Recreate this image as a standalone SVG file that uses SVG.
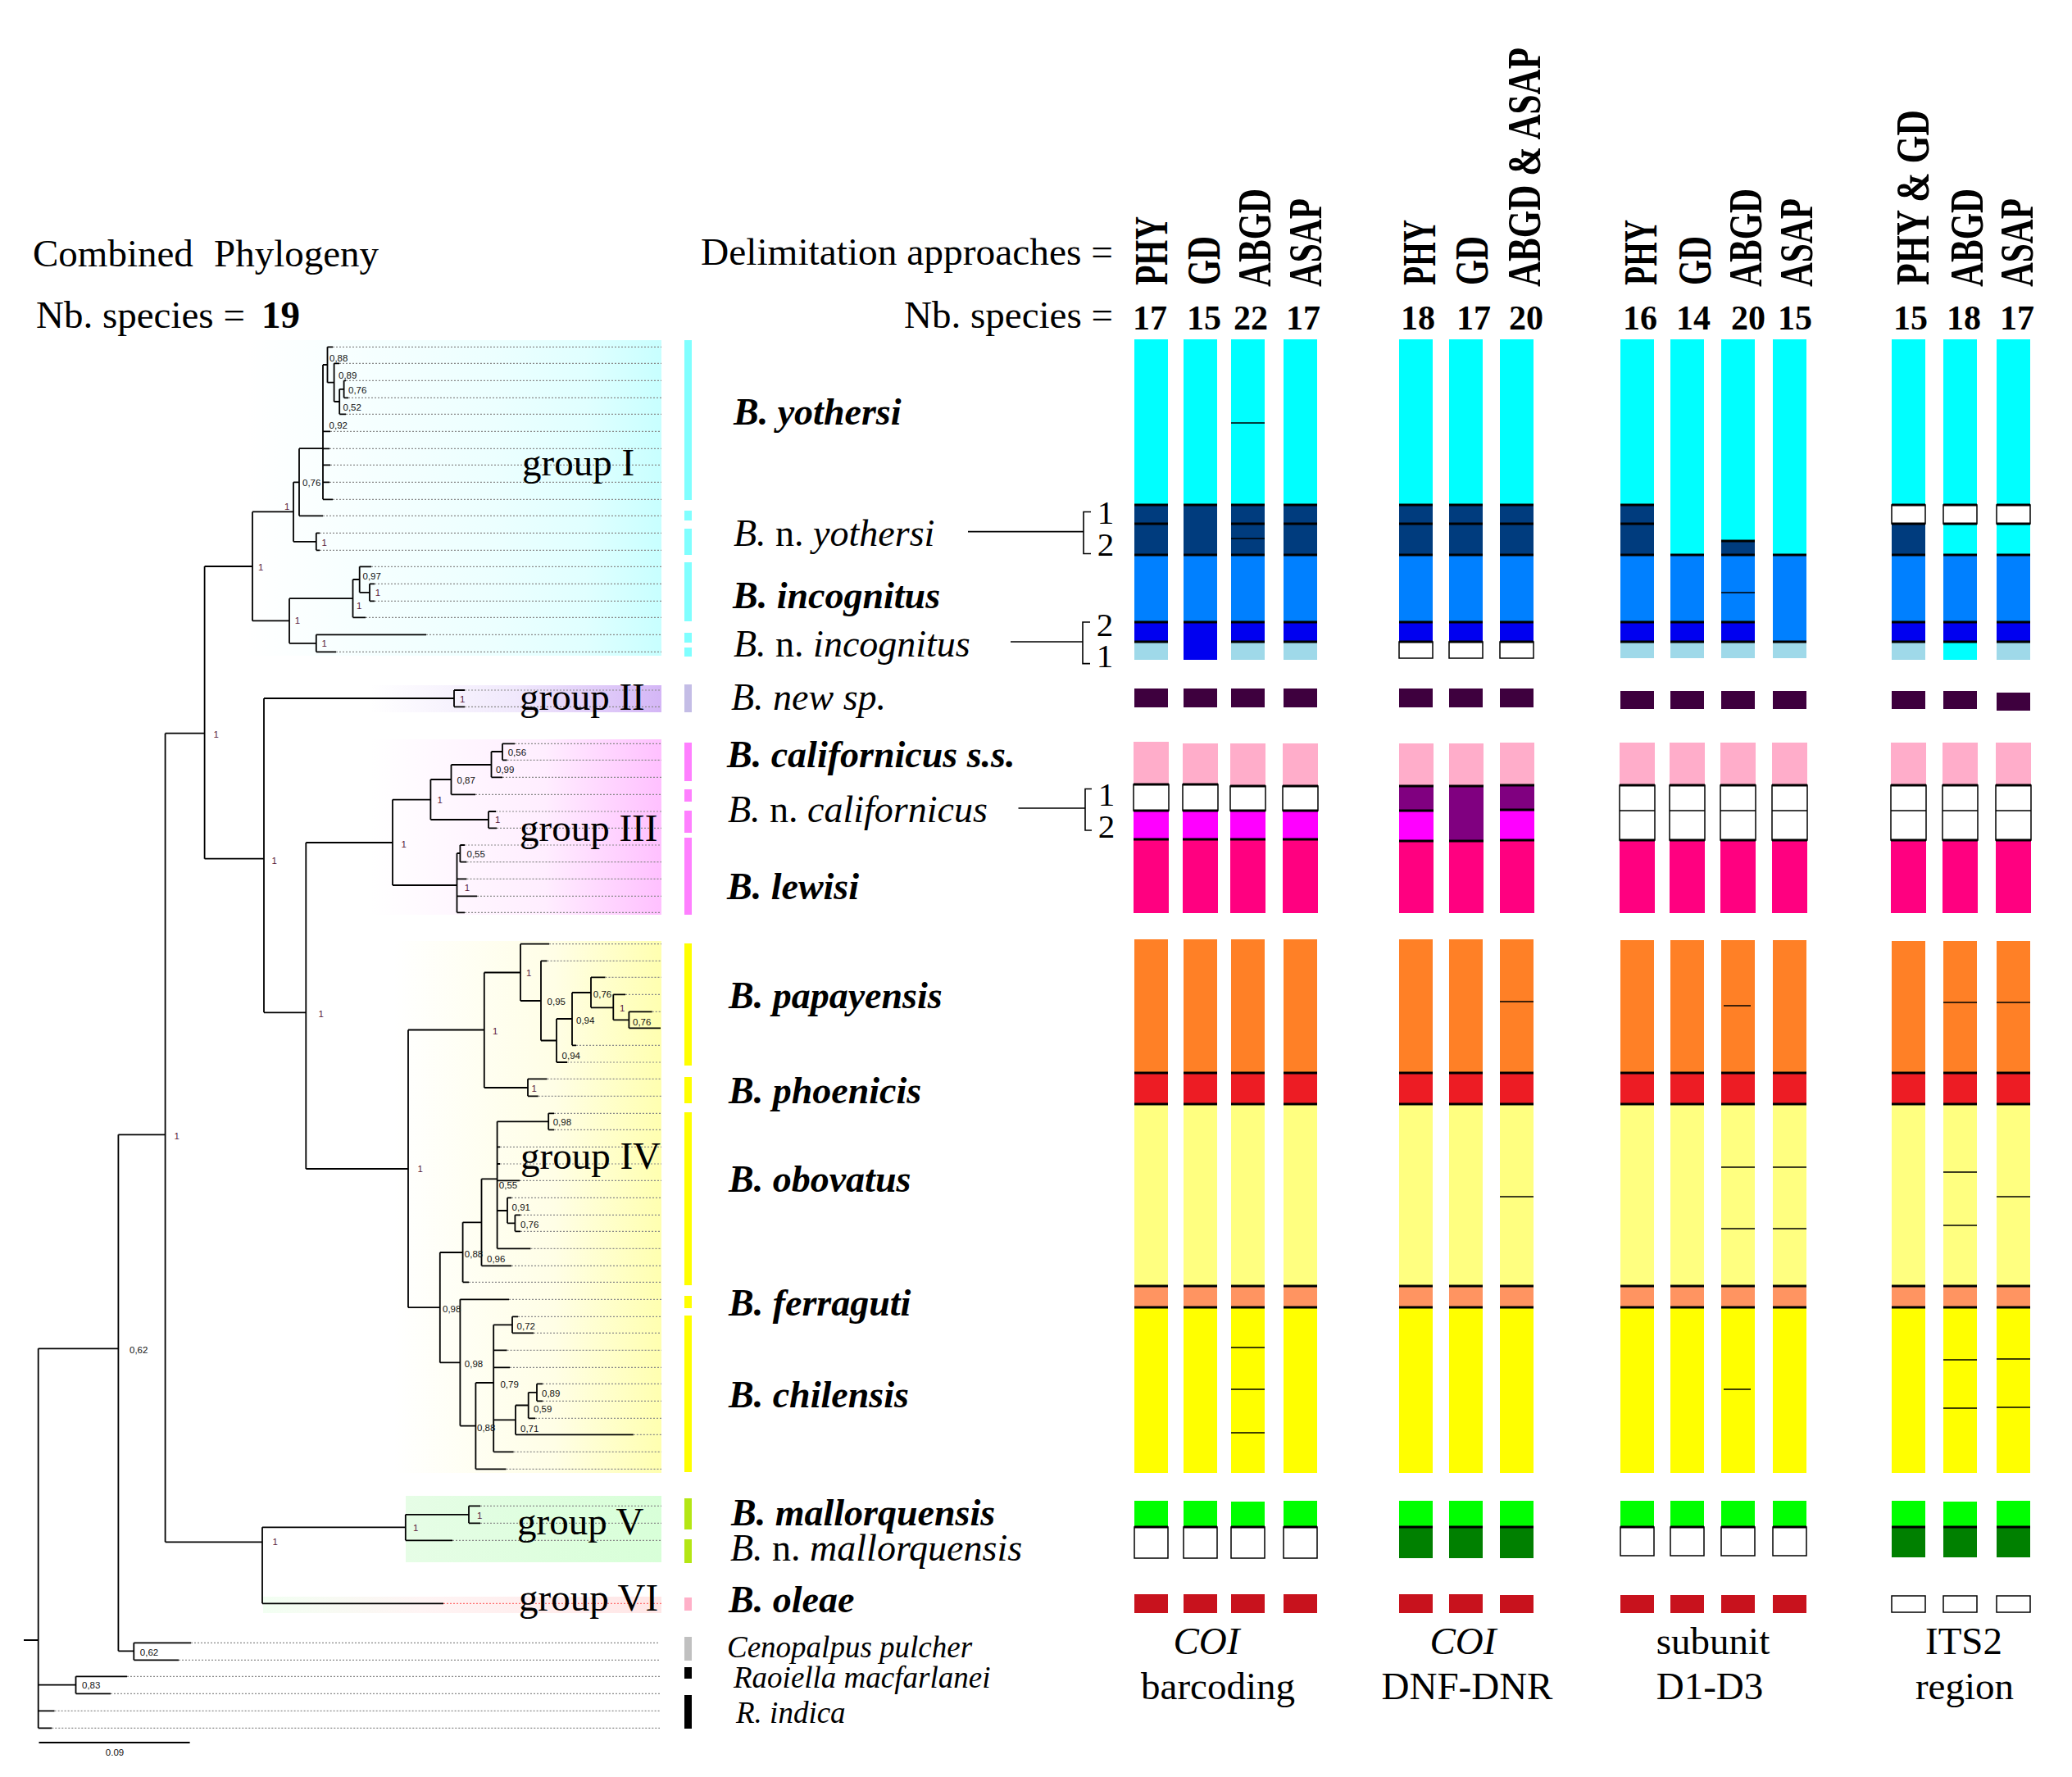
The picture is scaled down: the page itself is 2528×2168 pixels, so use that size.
<svg xmlns="http://www.w3.org/2000/svg" width="2528" height="2168" viewBox="0 0 2528 2168">
<defs>
<style>
.sr{font-family:"Liberation Serif","Times New Roman",serif;fill:#000}
.h{font-family:"Liberation Serif",serif;font-size:47px}
.hb{font-family:"Liberation Serif",serif;font-size:47px;font-weight:bold}
.rh{font-family:"Liberation Serif",serif;font-size:56px;font-weight:bold}
.nb{font-family:"Liberation Serif",serif;font-size:42px;font-weight:bold;text-anchor:middle}
.sp{font-family:"Liberation Serif",serif;font-size:46px;font-weight:bold;font-style:italic}
.sn{font-family:"Liberation Serif",serif;font-size:46px}
.it{font-style:italic}
.og{font-family:"Liberation Serif",serif;font-size:37px;font-style:italic}
.gl{font-family:"Liberation Serif",serif;font-size:47px}
.bt{font-family:"Liberation Serif",serif;font-size:47px;text-anchor:middle}
.br{font-family:"Liberation Serif",serif;font-size:41px;text-anchor:middle}
.pp{font-family:"Liberation Sans",Arial,sans-serif;font-size:11.5px;fill:#111}
.p1{font-family:"Liberation Sans",Arial,sans-serif;font-size:11.5px;fill:#5a1a3a}
.tr{fill:none;stroke:#000;stroke-width:1.8}
.dt{fill:none;stroke:#8a8a8a;stroke-width:1.2;stroke-dasharray:2 2}
.cn{fill:none;stroke:#000;stroke-width:1.6}
.tk{stroke:#000;stroke-width:3.2}
.tn{stroke:#000;stroke-width:1.5}
.cy{fill:#00ffff}.nv{fill:#003c7e}.bl{fill:#0080ff}.b2{fill:#0000f0}.lb{fill:#9fd9e9}
.ns{fill:#3e003e}.pk{fill:#ffadca}.wb{fill:#fff;stroke:#000;stroke-width:1.5}
.mg{fill:#ff00ff}.dp{fill:#ff0080}.pu{fill:#800080}
.or{fill:#ff8026}.rd{fill:#ed1c24}.ly{fill:#ffff80}.sa{fill:#ff9461}.ye{fill:#ffff00}
.gr{fill:#00ff00}.dg{fill:#008000}.ol{fill:#c8121d}
</style>
<linearGradient id="g1" x1="0" y1="0" x2="1" y2="0"><stop offset="0" stop-color="#fff"/><stop offset="0.6" stop-color="#ecffff"/><stop offset="0.82" stop-color="#e0ffff"/><stop offset="1" stop-color="#c8ffff"/></linearGradient>
<linearGradient id="g2" x1="0" y1="0" x2="1" y2="0"><stop offset="0" stop-color="#fff"/><stop offset="0.5" stop-color="#f0e8fc"/><stop offset="1" stop-color="#d4b6f6"/></linearGradient>
<linearGradient id="g3" x1="0" y1="0" x2="1" y2="0"><stop offset="0" stop-color="#fff"/><stop offset="0.6" stop-color="#ffeeff"/><stop offset="1" stop-color="#ffc0ff"/></linearGradient>
<linearGradient id="g4" x1="0" y1="0" x2="1" y2="0"><stop offset="0" stop-color="#fff"/><stop offset="0.6" stop-color="#fffee6"/><stop offset="1" stop-color="#ffffb0"/></linearGradient>
<linearGradient id="g5" x1="0" y1="0" x2="1" y2="0"><stop offset="0" stop-color="#e6fde6"/><stop offset="1" stop-color="#d8ffd8"/></linearGradient>
<linearGradient id="g6" x1="0" y1="0" x2="1" y2="0"><stop offset="0" stop-color="#f2fff2"/><stop offset="0.4" stop-color="#fff4f4"/><stop offset="1" stop-color="#ffe6e6"/></linearGradient>
</defs>
<rect x="0" y="0" width="2528" height="2168" fill="#fff"/>

<g id="group-backgrounds">
<rect x="300" y="415" width="507" height="385" fill="url(#g1)"/>
<rect x="452" y="836" width="355" height="33" fill="url(#g2)"/>
<rect x="452" y="902" width="355" height="214" fill="url(#g3)"/>
<rect x="480" y="1148" width="327" height="649" fill="url(#g4)"/>
<rect x="495" y="1825" width="312" height="81" fill="url(#g5)"/>
<rect x="321" y="1948" width="486" height="20" fill="url(#g6)"/>
</g>

<g id="header">
<text class="h" x="40" y="325">Combined</text>
<text class="h" x="261" y="325">Phylogeny</text>
<text class="h" x="44" y="400">Nb. species =</text>
<text class="hb" x="319" y="400">19</text>
<text class="h" x="855" y="323" textLength="503" lengthAdjust="spacingAndGlyphs">Delimitation approaches =</text>
<text class="h" x="1358" y="400" text-anchor="end">Nb. species =</text>
<text class="rh" transform="translate(1424,348) rotate(-90)" textLength="84" lengthAdjust="spacingAndGlyphs">PHY</text>
<text class="rh" transform="translate(1488,348) rotate(-90)" textLength="60" lengthAdjust="spacingAndGlyphs">GD</text>
<text class="rh" transform="translate(1550,350) rotate(-90)" textLength="120" lengthAdjust="spacingAndGlyphs">ABGD</text>
<text class="rh" transform="translate(1612,350) rotate(-90)" textLength="108" lengthAdjust="spacingAndGlyphs">ASAP</text>
<text class="rh" transform="translate(1751,348) rotate(-90)" textLength="80" lengthAdjust="spacingAndGlyphs">PHY</text>
<text class="rh" transform="translate(1815,348) rotate(-90)" textLength="60" lengthAdjust="spacingAndGlyphs">GD</text>
<text class="rh" transform="translate(1879,350) rotate(-90)" textLength="292" lengthAdjust="spacingAndGlyphs">ABGD &amp; ASAP</text>
<text class="rh" transform="translate(2021,348) rotate(-90)" textLength="80" lengthAdjust="spacingAndGlyphs">PHY</text>
<text class="rh" transform="translate(2087,348) rotate(-90)" textLength="60" lengthAdjust="spacingAndGlyphs">GD</text>
<text class="rh" transform="translate(2149,350) rotate(-90)" textLength="120" lengthAdjust="spacingAndGlyphs">ABGD</text>
<text class="rh" transform="translate(2211,350) rotate(-90)" textLength="108" lengthAdjust="spacingAndGlyphs">ASAP</text>
<text class="rh" transform="translate(2353,348) rotate(-90)" textLength="214" lengthAdjust="spacingAndGlyphs">PHY &amp; GD</text>
<text class="rh" transform="translate(2419,350) rotate(-90)" textLength="120" lengthAdjust="spacingAndGlyphs">ABGD</text>
<text class="rh" transform="translate(2480,350) rotate(-90)" textLength="108" lengthAdjust="spacingAndGlyphs">ASAP</text>
<text class="nb" x="1403" y="402">17</text><text class="nb" x="1469" y="402">15</text><text class="nb" x="1526" y="402">22</text><text class="nb" x="1590" y="402">17</text>
<text class="nb" x="1730" y="402">18</text><text class="nb" x="1798" y="402">17</text><text class="nb" x="1862" y="402">20</text>
<text class="nb" x="2001" y="402">16</text><text class="nb" x="2066" y="402">14</text><text class="nb" x="2133" y="402">20</text><text class="nb" x="2190" y="402">15</text>
<text class="nb" x="2331" y="402">15</text><text class="nb" x="2396" y="402">18</text><text class="nb" x="2461" y="402">17</text>
</g>

<g id="connectors">
<path class="tr" d="M29 2001H46.7M46.7 1645.3V2108.3M46.7 1645.3H144.4M144.4 1384.3V2014.3M144.4 2014.3H163.3M163.3 2004.3V2025.3M46.7 2055.7H92.5M92.5 2045.3V2066.3M144.4 1384.3H201.6M201.6 894.7V1881.3M201.6 894.7H249.6M249.6 691V1047.7M249.6 691H308M308 624.4V757.4M308 624.4H358M358 588.3V660.8M358 588.3H365M365 547.2V629.3M365 547.2H394M394 445V609.3M394 445H399.5M399.5 423.3V466.7M399.5 466.7H407.6M407.6 443.3V490M407.6 490H414.2M414.2 474.8V505.3M414.2 474.8H419.6M419.6 464.3V485.3M358 660.8H385.8M385.8 650.3V671.3M308 757.4H353M353 730.2V784.8M353 730.2H430.5M430.5 707V753.3M430.5 707H438.7M438.7 691.3V722.8M438.7 722.8H451M451 712.3V733.3M353 784.8H385.8M385.8 774.3V795.3M249.6 1047.7H322M322 852V1235.3M322 852H554M554 842V862.3M322 1235.3H373.3M373.3 1028V1426M373.3 1028H479M479 975.6V1080M479 975.6H525.4M525.4 951V1000M525.4 951H550.5M550.5 933V969.3M550.5 933H599.5M599.5 917V948.3M599.5 917H613M613 907.3V927.3M525.4 1000H596M596 990V1010.3M479 1080H557.5M557.5 1041V1113.3M557.5 1041H561.4M561.4 1031V1051.7M373.3 1426H498M498 1256.5V1595.2M498 1256.5H590.8M590.8 1186.5V1327M590.8 1186.5H635M635 1151.7V1221M635 1221H660M660 1172.3V1269.5M660 1269.5H679M679 1243V1296M679 1243H698M698 1211V1275.3M698 1211H721M721 1192.3V1229.3M721 1229.3H748.3M748.3 1213.3V1244.3M748.3 1244.3H767.4M767.4 1234.3V1254.3M590.8 1327H644M644 1316.3V1337.3M498 1595.2H536.8M536.8 1528V1662.4M536.8 1528H564.6M564.6 1491.3V1564.3M564.6 1491.3H587.5M587.5 1438.3V1544.3M587.5 1438.3H606.6M606.6 1368.3V1523.3M606.6 1368.3H669.2M669.2 1358.3V1378.3M606.6 1477H619M619 1461.3V1492.3M619 1492.3H628.4M628.4 1482.3V1502.3M536.8 1662.4H561.4M561.4 1585.3V1739.6M561.4 1739.6H580.4M580.4 1687V1792.3M580.4 1687H602.2M602.2 1616.3V1771.3M602.2 1616.3H625M625 1606.3V1626.3M602.2 1732.4H629M629 1714.5V1750.3M629 1714.5H644.7M644.7 1698.8V1730.3M644.7 1698.8H655M655 1688.3V1709.3M201.6 1881.3H320M320 1863.3V1956.3M320 1863.3H494.8M494.8 1847.8V1879.3M494.8 1847.8H572M572 1837.3V1858.3"/>
<path class="tr" d="M399.5 423.3H406M407.6 443.3H414M419.6 464.3H422M419.6 485.3H425M414.2 505.3H422M394 526.3H403M394 547.3H402M394 567.3H403M394 588.3H402M394 609.3H406M365 629.3H394M385.8 650.3H390M385.8 671.3H390M438.7 691.3H453M451 712.3H457M451 733.3H457M430.5 753.3H446M385.8 774.3H520M385.8 795.3H410M554 842H567M554 862.3H567M613 907.3H628M613 927.3H618.6M599.5 948.3H613M550.5 969.3H580M596 990H605M596 1010.3H606M561.4 1031H567M561.4 1051.7H569.5M557.5 1072.3H569.5M557.5 1093.3H582M557.5 1113.3H567M635 1151.7H670M660 1172.3H667.6M721 1192.3H738.5M748.3 1213.3H763M767.4 1234.3H795.7M767.4 1254.3H806M698 1275.3H703M679 1296H692M644 1316.3H667.6M644 1337.3H656.7M669.2 1358.3H676M669.2 1378.3H676M606.6 1399.3H610M606.6 1420H610M606.6 1440.3H634M619 1461.3H624M628.4 1482.3H635M628.4 1502.3H635M606.6 1523.3H647.5M587.5 1544.3H624M564.6 1564.3H572M561.4 1585.3H621M625 1606.3H632M625 1626.3H651M602.2 1647.3H618.6M602.2 1668.3H622M655 1688.3H662M655 1709.3H662M644.7 1730.3H653M629 1750.3H772.8M602.2 1771.3H626.7M580.4 1792.3H617.5M572 1837.3H586M572 1858.3H586M494.8 1879.3H552M320 1956.3H541M163.3 2004.3H233M163.3 2025.3H218M92.5 2045.3H155M92.5 2066.3H135M46.7 2087.3H66.6M46.7 2108.3H63.3M47.5 2126H231.6"/>
<path class="dt" d="M406 423.3H807M414 443.3H807M422 464.3H807M425 485.3H807M422 505.3H807M403 526.3H807M402 547.3H807M403 567.3H807M402 588.3H807M406 609.3H807M394 629.3H807M390 650.3H807M390 671.3H807M453 691.3H807M457 712.3H807M457 733.3H807M446 753.3H807M520 774.3H807M410 795.3H807M567 842H807M567 862.3H807M628 907.3H807M618.6 927.3H807M613 948.3H807M580 969.3H807M605 990H807M606 1010.3H807M567 1031H807M569.5 1051.7H807M569.5 1072.3H807M582 1093.3H807M567 1113.3H807M670 1151.7H807M667.6 1172.3H807M738.5 1192.3H807M763 1213.3H807M795.7 1234.3H807M703 1275.3H807M692 1296H807M667.6 1316.3H807M656.7 1337.3H807M676 1358.3H807M676 1378.3H807M610 1399.3H807M610 1420H807M634 1440.3H807M624 1461.3H807M635 1482.3H807M635 1502.3H807M647.5 1523.3H807M624 1544.3H807M572 1564.3H807M621 1585.3H807M632 1606.3H807M651 1626.3H807M618.6 1647.3H807M622 1668.3H807M662 1688.3H807M662 1709.3H807M653 1730.3H807M772.8 1750.3H807M626.7 1771.3H807M617.5 1792.3H807M586 1837.3H807M586 1858.3H807M552 1879.3H807M233 2004.3H805M218 2025.3H805M155 2045.3H805M135 2066.3H805M66.6 2087.3H805M63.3 2108.3H805"/>
<path d="M541 1956.3H807" fill="none" stroke="#ff7070" stroke-width="1.2" stroke-dasharray="2 2"/>
<path class="cn" d="M1181 648.6H1322M1331 624.5H1322V675.5H1331M1233 783H1321M1330 759H1321V809.6H1330M1242.5 986H1324M1332 962.5H1324V1013H1332"/>
</g>

<g id="support-values">
<text class="pp" x="402" y="441">0,88</text><text class="pp" x="413" y="462">0,89</text><text class="pp" x="425" y="480">0,76</text><text class="pp" x="418.5" y="501">0,52</text><text class="pp" x="401.6" y="523">0,92</text><text class="pp" x="369" y="593">0,76</text><text class="pp" x="442.5" y="707">0,97</text>
<text class="pp" x="619.7" y="922">0,56</text><text class="pp" x="605" y="943">0,99</text><text class="pp" x="557.5" y="956">0,87</text><text class="pp" x="569.5" y="1046">0,55</text>
<text class="pp" x="667.6" y="1226">0,95</text><text class="pp" x="723.8" y="1217">0,76</text><text class="pp" x="772" y="1251">0,76</text><text class="pp" x="703" y="1249">0,94</text><text class="pp" x="685.6" y="1292">0,94</text><text class="pp" x="674.7" y="1373">0,98</text><text class="pp" x="608.8" y="1450">0,55</text><text class="pp" x="624.6" y="1477">0,91</text><text class="pp" x="635" y="1498">0,76</text><text class="pp" x="566.8" y="1534">0,88</text><text class="pp" x="594" y="1540">0,96</text>
<text class="pp" x="540" y="1601">0,98</text><text class="pp" x="630.6" y="1622">0,72</text><text class="pp" x="158" y="1651">0,62</text><text class="pp" x="566.8" y="1668">0,98</text><text class="pp" x="610.4" y="1693">0,79</text><text class="pp" x="661" y="1704">0,89</text><text class="pp" x="651" y="1723">0,59</text><text class="pp" x="582" y="1746">0,88</text><text class="pp" x="635" y="1747">0,71</text>
<text class="pp" x="170.8" y="2020">0,62</text><text class="pp" x="100" y="2060">0,83</text>
<text class="p1" x="347" y="622">1</text><text class="p1" x="392.4" y="666">1</text><text class="p1" x="315" y="696">1</text><text class="p1" x="457.8" y="727">1</text><text class="p1" x="434.9" y="743">1</text><text class="p1" x="359.7" y="761">1</text><text class="p1" x="392.4" y="789">1</text>
<text class="p1" x="561" y="857">1</text><text class="p1" x="260.5" y="900">1</text><text class="p1" x="533.6" y="980">1</text><text class="p1" x="604" y="1004">1</text><text class="p1" x="331.4" y="1054">1</text><text class="p1" x="489.4" y="1034">1</text><text class="p1" x="566.8" y="1087">1</text>
<text class="p1" x="642" y="1191">1</text><text class="p1" x="756" y="1234">1</text><text class="p1" x="388.6" y="1241">1</text><text class="p1" x="601" y="1262">1</text><text class="p1" x="648.5" y="1332">1</text><text class="p1" x="212.6" y="1390">1</text><text class="p1" x="509.6" y="1430">1</text>
<text class="p1" x="582" y="1853">1</text><text class="p1" x="504" y="1868">1</text><text class="p1" x="332.5" y="1885">1</text>
<text class="pp" x="140" y="2142" text-anchor="middle">0.09</text>
</g>

<g id="group-labels">
<text class="gl" x="637" y="580">group I</text>
<text class="gl" x="634" y="866">group II</text>
<text class="gl" x="634" y="1026">group III</text>
<text class="gl" x="635" y="1426">group IV</text>
<text class="gl" x="631" y="1872">group V</text>
<text class="gl" x="633" y="1965">group VI</text>
</g>

<g id="species-bars">
<rect x="835" y="415" width="9" height="195" fill="#80ffff"/><rect x="835" y="623" width="9" height="12" fill="#80ffff"/><rect x="835" y="645" width="9" height="32" fill="#80ffff"/><rect x="835" y="686" width="9" height="72" fill="#80ffff"/><rect x="835" y="772" width="9" height="12" fill="#80ffff"/><rect x="835" y="790" width="9" height="11" fill="#80ffff"/>
<rect x="835" y="835" width="9" height="34" fill="#c4bde6"/>
<rect x="835" y="906" width="9" height="47" fill="#ff80ff"/><rect x="835" y="963" width="9" height="15" fill="#ff80ff"/><rect x="835" y="989" width="9" height="27" fill="#ff80ff"/><rect x="835" y="1022" width="9" height="94" fill="#ff80ff"/>
<rect x="835" y="1151" width="9" height="149" fill="#ffff00"/><rect x="835" y="1314" width="9" height="32" fill="#ffff00"/><rect x="835" y="1357" width="9" height="211" fill="#ffff00"/><rect x="835" y="1581" width="9" height="15" fill="#ffff00"/><rect x="835" y="1605" width="9" height="191" fill="#ffff00"/>
<rect x="835" y="1828" width="9" height="38" fill="#b4e614"/><rect x="835" y="1878" width="9" height="29" fill="#b4e614"/>
<rect x="835" y="1949" width="9" height="16" fill="#ffb0c8"/>
<rect x="835" y="1997" width="9" height="29" fill="#c0c0c0"/>
<rect x="835" y="2034" width="9" height="14" fill="#000"/><rect x="835" y="2068" width="9" height="41" fill="#000"/>
</g>

<g id="species-labels">
<text class="sp" x="895" y="518">B. yothersi</text>
<text class="sn" x="895" y="666"><tspan class="it">B.</tspan> n. <tspan class="it">yothersi</tspan></text>
<text class="br" x="1349" y="639">1</text><text class="br" x="1349" y="678">2</text>
<text class="sp" x="894" y="742">B. incognitus</text>
<text class="sn" x="895" y="801"><tspan class="it">B.</tspan> n. <tspan class="it">incognitus</tspan></text>
<text class="br" x="1348" y="776">2</text><text class="br" x="1348" y="814">1</text>
<text class="sn it" x="892" y="866">B. new sp.</text>
<text class="sp" x="887" y="936">B. californicus s.s.</text>
<text class="sn" x="888" y="1003"><tspan class="it">B.</tspan> n. <tspan class="it">californicus</tspan></text>
<text class="br" x="1350" y="983">1</text><text class="br" x="1350" y="1022">2</text>
<text class="sp" x="887" y="1097">B. lewisi</text>
<text class="sp" x="889" y="1230">B. papayensis</text>
<text class="sp" x="889" y="1346">B. phoenicis</text>
<text class="sp" x="889" y="1454">B. obovatus</text>
<text class="sp" x="889" y="1605">B. ferraguti</text>
<text class="sp" x="889" y="1717">B. chilensis</text>
<text class="sp" x="892" y="1861">B. mallorquensis</text>
<text class="sn" x="891" y="1904"><tspan class="it">B.</tspan> n. <tspan class="it">mallorquensis</tspan></text>
<text class="sp" x="889" y="1967">B. oleae</text>
<text class="og" x="887" y="2022">Cenopalpus pulcher</text>
<text class="og" x="895" y="2059">Raoiella macfarlanei</text>
<text class="og" x="898" y="2102">R. indica</text>
</g>

<g id="bars-coi-barcoding">
<rect class="cy" x="1384" y="414" width="41" height="202"/><rect class="nv" x="1384" y="616" width="41" height="61"/><rect class="bl" x="1384" y="677" width="41" height="82"/><rect class="b2" x="1384" y="759" width="41" height="24"/><rect class="lb" x="1384" y="783" width="41" height="22"/>
<rect class="cy" x="1444" y="414" width="41" height="202"/><rect class="nv" x="1444" y="616" width="41" height="61"/><rect class="bl" x="1444" y="677" width="41" height="82"/><rect class="b2" x="1444" y="759" width="41" height="46"/>
<rect class="cy" x="1502" y="414" width="41" height="202"/><rect class="nv" x="1502" y="616" width="41" height="61"/><rect class="bl" x="1502" y="677" width="41" height="82"/><rect class="b2" x="1502" y="759" width="41" height="24"/><rect class="lb" x="1502" y="783" width="41" height="22"/>
<rect class="cy" x="1566" y="414" width="41" height="202"/><rect class="nv" x="1566" y="616" width="41" height="61"/><rect class="bl" x="1566" y="677" width="41" height="82"/><rect class="b2" x="1566" y="759" width="41" height="24"/><rect class="lb" x="1566" y="783" width="41" height="22"/>
<path class="tk" d="M1384 616h41M1384 639h41M1384 677h41M1384 759h41M1384 783h41M1444 616h41M1444 677h41M1444 759h41M1502 616h41M1502 639h41M1502 677h41M1502 759h41M1502 783h41M1566 616h41M1566 639h41M1566 677h41M1566 759h41M1566 783h41"/>
<path class="tn" d="M1502 516h41M1502 657h41"/>
<rect class="ns" x="1384" y="840" width="41" height="23"/><rect class="ns" x="1444" y="840" width="41" height="23"/><rect class="ns" x="1502" y="840" width="41" height="23"/><rect class="ns" x="1566" y="840" width="41" height="23"/>
<rect class="pk" x="1383" y="905" width="43" height="52"/><rect class="wb" x="1383" y="957" width="43" height="32"/><rect class="mg" x="1383" y="989" width="43" height="35"/><rect class="dp" x="1383" y="1024" width="43" height="90"/>
<rect class="pk" x="1443" y="907" width="43" height="50"/><rect class="wb" x="1443" y="957" width="43" height="32"/><rect class="mg" x="1443" y="989" width="43" height="35"/><rect class="dp" x="1443" y="1024" width="43" height="90"/>
<rect class="pk" x="1501" y="907" width="43" height="52"/><rect class="wb" x="1501" y="959" width="43" height="30"/><rect class="mg" x="1501" y="989" width="43" height="35"/><rect class="dp" x="1501" y="1024" width="43" height="90"/>
<rect class="pk" x="1565" y="907" width="43" height="52"/><rect class="wb" x="1565" y="959" width="43" height="30"/><rect class="mg" x="1565" y="989" width="43" height="35"/><rect class="dp" x="1565" y="1024" width="43" height="90"/>
<path class="tk" d="M1383 957h43M1383 989h43M1383 1024h43M1443 957h43M1443 989h43M1443 1024h43M1501 959h43M1501 989h43M1501 1024h43M1565 959h43M1565 989h43M1565 1024h43"/>
<rect class="or" x="1384" y="1146" width="41" height="163"/><rect class="rd" x="1384" y="1309" width="41" height="38"/><rect class="ly" x="1384" y="1347" width="41" height="222"/><rect class="sa" x="1384" y="1569" width="41" height="26"/><rect class="ye" x="1384" y="1595" width="41" height="202"/>
<rect class="or" x="1444" y="1146" width="41" height="163"/><rect class="rd" x="1444" y="1309" width="41" height="38"/><rect class="ly" x="1444" y="1347" width="41" height="222"/><rect class="sa" x="1444" y="1569" width="41" height="26"/><rect class="ye" x="1444" y="1595" width="41" height="202"/>
<rect class="or" x="1502" y="1146" width="41" height="163"/><rect class="rd" x="1502" y="1309" width="41" height="38"/><rect class="ly" x="1502" y="1347" width="41" height="222"/><rect class="sa" x="1502" y="1569" width="41" height="26"/><rect class="ye" x="1502" y="1595" width="41" height="202"/>
<rect class="or" x="1566" y="1146" width="41" height="163"/><rect class="rd" x="1566" y="1309" width="41" height="38"/><rect class="ly" x="1566" y="1347" width="41" height="222"/><rect class="sa" x="1566" y="1569" width="41" height="26"/><rect class="ye" x="1566" y="1595" width="41" height="202"/>
<path class="tk" d="M1384 1309h41M1384 1347h41M1384 1569h41M1384 1595h41M1444 1309h41M1444 1347h41M1444 1569h41M1444 1595h41M1502 1309h41M1502 1347h41M1502 1569h41M1502 1595h41M1566 1309h41M1566 1347h41M1566 1569h41M1566 1595h41"/>
<path class="tn" d="M1502 1644h41M1502 1695h41M1502 1748h41"/>
<rect class="gr" x="1384" y="1831" width="41" height="32"/><rect class="wb" x="1384" y="1863" width="41" height="38"/>
<rect class="gr" x="1444" y="1831" width="41" height="32"/><rect class="wb" x="1444" y="1863" width="41" height="38"/>
<rect class="gr" x="1502" y="1832" width="41" height="31"/><rect class="wb" x="1502" y="1863" width="41" height="38"/>
<rect class="gr" x="1566" y="1831" width="41" height="32"/><rect class="wb" x="1566" y="1863" width="41" height="38"/>
<path class="tk" d="M1384 1863h41M1444 1863h41M1502 1863h41M1566 1863h41"/>
<rect class="ol" x="1384" y="1945" width="41" height="23"/><rect class="ol" x="1444" y="1945" width="41" height="23"/><rect class="ol" x="1502" y="1945" width="41" height="23"/><rect class="ol" x="1566" y="1945" width="41" height="23"/>
</g>

<g id="bars-coi-dnf-dnr">
<rect class="cy" x="1707" y="414" width="41" height="202"/><rect class="nv" x="1707" y="616" width="41" height="61"/><rect class="bl" x="1707" y="677" width="41" height="82"/><rect class="b2" x="1707" y="759" width="41" height="24"/><rect class="wb" x="1707" y="783" width="41" height="20"/>
<rect class="cy" x="1768" y="414" width="41" height="202"/><rect class="nv" x="1768" y="616" width="41" height="61"/><rect class="bl" x="1768" y="677" width="41" height="82"/><rect class="b2" x="1768" y="759" width="41" height="24"/><rect class="wb" x="1768" y="783" width="41" height="20"/>
<rect class="cy" x="1830" y="414" width="41" height="202"/><rect class="nv" x="1830" y="616" width="41" height="61"/><rect class="bl" x="1830" y="677" width="41" height="82"/><rect class="b2" x="1830" y="759" width="41" height="24"/><rect class="wb" x="1830" y="783" width="41" height="20"/>
<path class="tk" d="M1707 616h41M1707 639h41M1707 677h41M1707 759h41M1707 783h41M1768 616h41M1768 639h41M1768 677h41M1768 759h41M1768 783h41M1830 616h41M1830 639h41M1830 677h41M1830 759h41M1830 783h41"/>
<rect class="ns" x="1707" y="840" width="41" height="23"/><rect class="ns" x="1768" y="840" width="41" height="23"/><rect class="ns" x="1830" y="840" width="41" height="23"/>
<rect class="pk" x="1707" y="907" width="42" height="52"/><rect class="pu" x="1707" y="959" width="42" height="30"/><rect class="mg" x="1707" y="989" width="42" height="37"/><rect class="dp" x="1707" y="1026" width="42" height="88"/>
<rect class="pk" x="1768" y="907" width="42" height="52"/><rect class="pu" x="1768" y="959" width="42" height="67"/><rect class="dp" x="1768" y="1026" width="42" height="88"/>
<rect class="pk" x="1830" y="906" width="42" height="52"/><rect class="pu" x="1830" y="958" width="42" height="30"/><rect class="mg" x="1830" y="988" width="42" height="37"/><rect class="dp" x="1830" y="1025" width="42" height="89"/>
<path class="tk" d="M1707 959h42M1707 989h42M1707 1026h42M1768 959h42M1768 1026h42M1830 958h42M1830 988h42M1830 1025h42"/>
<rect class="or" x="1707" y="1146" width="41" height="163"/><rect class="rd" x="1707" y="1309" width="41" height="38"/><rect class="ly" x="1707" y="1347" width="41" height="222"/><rect class="sa" x="1707" y="1569" width="41" height="26"/><rect class="ye" x="1707" y="1595" width="41" height="202"/>
<rect class="or" x="1768" y="1146" width="41" height="163"/><rect class="rd" x="1768" y="1309" width="41" height="38"/><rect class="ly" x="1768" y="1347" width="41" height="222"/><rect class="sa" x="1768" y="1569" width="41" height="26"/><rect class="ye" x="1768" y="1595" width="41" height="202"/>
<rect class="or" x="1830" y="1146" width="41" height="163"/><rect class="rd" x="1830" y="1309" width="41" height="38"/><rect class="ly" x="1830" y="1347" width="41" height="222"/><rect class="sa" x="1830" y="1569" width="41" height="26"/><rect class="ye" x="1830" y="1595" width="41" height="202"/>
<path class="tk" d="M1707 1309h41M1707 1347h41M1707 1569h41M1707 1595h41M1768 1309h41M1768 1347h41M1768 1569h41M1768 1595h41M1830 1309h41M1830 1347h41M1830 1569h41M1830 1595h41"/>
<path class="tn" d="M1830 1222h41M1830 1460h41"/>
<rect class="gr" x="1707" y="1831" width="41" height="32"/><rect class="dg" x="1707" y="1863" width="41" height="38"/>
<rect class="gr" x="1768" y="1831" width="41" height="32"/><rect class="dg" x="1768" y="1863" width="41" height="38"/>
<rect class="gr" x="1830" y="1831" width="41" height="32"/><rect class="dg" x="1830" y="1863" width="41" height="38"/>
<path class="tk" d="M1707 1863h41M1768 1863h41M1830 1863h41"/>
<rect class="ol" x="1707" y="1945" width="41" height="23"/><rect class="ol" x="1768" y="1945" width="41" height="23"/><rect class="ol" x="1830" y="1946" width="41" height="22"/>
</g>

<g id="bars-subunit-d1-d3">
<rect class="cy" x="1977" y="414" width="41" height="202"/><rect class="nv" x="1977" y="616" width="41" height="61"/><rect class="bl" x="1977" y="677" width="41" height="82"/><rect class="b2" x="1977" y="759" width="41" height="24"/><rect class="lb" x="1977" y="783" width="41" height="20"/>
<rect class="cy" x="2038" y="414" width="41" height="263"/><rect class="bl" x="2038" y="677" width="41" height="82"/><rect class="b2" x="2038" y="759" width="41" height="24"/><rect class="lb" x="2038" y="783" width="41" height="20"/>
<rect class="cy" x="2100" y="414" width="41" height="246"/><rect class="nv" x="2100" y="660" width="41" height="17"/><rect class="bl" x="2100" y="677" width="41" height="82"/><rect class="b2" x="2100" y="759" width="41" height="24"/><rect class="lb" x="2100" y="783" width="41" height="20"/>
<rect class="cy" x="2163" y="414" width="41" height="263"/><rect class="bl" x="2163" y="677" width="41" height="106"/><rect class="lb" x="2163" y="783" width="41" height="20"/>
<path class="tk" d="M1977 616h41M1977 639h41M1977 677h41M1977 759h41M1977 783h41M2038 677h41M2038 759h41M2038 783h41M2100 660h41M2100 677h41M2100 759h41M2100 783h41M2163 677h41M2163 783h41"/>
<path class="tn" d="M2100 723h41"/>
<rect class="ns" x="1977" y="843" width="41" height="22"/><rect class="ns" x="2038" y="843" width="41" height="22"/><rect class="ns" x="2100" y="843" width="41" height="22"/><rect class="ns" x="2163" y="843" width="41" height="22"/>
<rect class="pk" x="1976" y="906" width="43" height="52"/><rect class="wb" x="1976" y="958" width="43" height="67"/><rect class="dp" x="1976" y="1025" width="43" height="89"/>
<rect class="pk" x="2037" y="906" width="43" height="52"/><rect class="wb" x="2037" y="958" width="43" height="67"/><rect class="dp" x="2037" y="1025" width="43" height="89"/>
<rect class="pk" x="2099" y="906" width="43" height="52"/><rect class="wb" x="2099" y="958" width="43" height="67"/><rect class="dp" x="2099" y="1025" width="43" height="89"/>
<rect class="pk" x="2162" y="906" width="43" height="52"/><rect class="wb" x="2162" y="958" width="43" height="67"/><rect class="dp" x="2162" y="1025" width="43" height="89"/>
<path class="tk" d="M1976 958h43M1976 1025h43M2037 958h43M2037 1025h43M2099 958h43M2099 1025h43M2162 958h43M2162 1025h43"/>
<path class="tn" d="M1976 989h43M2037 989h43M2099 989h43M2162 989h43"/>
<rect class="or" x="1977" y="1147" width="41" height="162"/><rect class="rd" x="1977" y="1309" width="41" height="38"/><rect class="ly" x="1977" y="1347" width="41" height="222"/><rect class="sa" x="1977" y="1569" width="41" height="26"/><rect class="ye" x="1977" y="1595" width="41" height="202"/>
<rect class="or" x="2038" y="1147" width="41" height="162"/><rect class="rd" x="2038" y="1309" width="41" height="38"/><rect class="ly" x="2038" y="1347" width="41" height="222"/><rect class="sa" x="2038" y="1569" width="41" height="26"/><rect class="ye" x="2038" y="1595" width="41" height="202"/>
<rect class="or" x="2100" y="1147" width="41" height="162"/><rect class="rd" x="2100" y="1309" width="41" height="38"/><rect class="ly" x="2100" y="1347" width="41" height="222"/><rect class="sa" x="2100" y="1569" width="41" height="26"/><rect class="ye" x="2100" y="1595" width="41" height="202"/>
<rect class="or" x="2163" y="1147" width="41" height="162"/><rect class="rd" x="2163" y="1309" width="41" height="38"/><rect class="ly" x="2163" y="1347" width="41" height="222"/><rect class="sa" x="2163" y="1569" width="41" height="26"/><rect class="ye" x="2163" y="1595" width="41" height="202"/>
<path class="tk" d="M1977 1309h41M1977 1347h41M1977 1569h41M1977 1595h41M2038 1309h41M2038 1347h41M2038 1569h41M2038 1595h41M2100 1309h41M2100 1347h41M2100 1569h41M2100 1595h41M2163 1309h41M2163 1347h41M2163 1569h41M2163 1595h41"/>
<path class="tn" d="M2103 1227h33M2100 1424h41M2100 1499h41M2103 1695h33M2163 1424h41M2163 1499h41"/>
<rect class="gr" x="1977" y="1831" width="41" height="32"/><rect class="wb" x="1977" y="1863" width="41" height="35"/>
<rect class="gr" x="2038" y="1831" width="41" height="32"/><rect class="wb" x="2038" y="1863" width="41" height="35"/>
<rect class="gr" x="2100" y="1831" width="41" height="32"/><rect class="wb" x="2100" y="1863" width="41" height="35"/>
<rect class="gr" x="2163" y="1831" width="41" height="32"/><rect class="wb" x="2163" y="1863" width="41" height="35"/>
<path class="tk" d="M1977 1863h41M2038 1863h41M2100 1863h41M2163 1863h41"/>
<rect class="ol" x="1977" y="1946" width="41" height="22"/><rect class="ol" x="2038" y="1946" width="41" height="22"/><rect class="ol" x="2100" y="1946" width="41" height="22"/><rect class="ol" x="2163" y="1946" width="41" height="22"/>
</g>

<g id="bars-its2-region">
<rect class="cy" x="2308" y="414" width="41" height="202"/><rect class="wb" x="2308" y="616" width="41" height="23"/><rect class="nv" x="2308" y="639" width="41" height="38"/><rect class="bl" x="2308" y="677" width="41" height="82"/><rect class="b2" x="2308" y="759" width="41" height="24"/><rect class="lb" x="2308" y="783" width="41" height="22"/>
<rect class="cy" x="2371" y="414" width="41" height="202"/><rect class="wb" x="2371" y="616" width="41" height="23"/><rect class="cy" x="2371" y="639" width="41" height="38"/><rect class="bl" x="2371" y="677" width="41" height="82"/><rect class="b2" x="2371" y="759" width="41" height="24"/><rect class="cy" x="2371" y="783" width="41" height="22"/>
<rect class="cy" x="2436" y="414" width="41" height="202"/><rect class="wb" x="2436" y="616" width="41" height="23"/><rect class="cy" x="2436" y="639" width="41" height="38"/><rect class="bl" x="2436" y="677" width="41" height="82"/><rect class="b2" x="2436" y="759" width="41" height="24"/><rect class="lb" x="2436" y="783" width="41" height="22"/>
<path class="tk" d="M2308 616h41M2308 639h41M2308 677h41M2308 759h41M2308 783h41M2371 616h41M2371 639h41M2371 677h41M2371 759h41M2371 783h41M2436 616h41M2436 639h41M2436 677h41M2436 759h41M2436 783h41"/>
<rect class="ns" x="2308" y="843" width="41" height="22"/><rect class="ns" x="2371" y="843" width="41" height="22"/><rect class="ns" x="2436" y="845" width="41" height="22"/>
<rect class="pk" x="2307" y="906" width="43" height="52"/><rect class="wb" x="2307" y="958" width="43" height="67"/><rect class="dp" x="2307" y="1025" width="43" height="89"/>
<rect class="pk" x="2370" y="906" width="43" height="52"/><rect class="wb" x="2370" y="958" width="43" height="67"/><rect class="dp" x="2370" y="1025" width="43" height="89"/>
<rect class="pk" x="2435" y="906" width="43" height="52"/><rect class="wb" x="2435" y="958" width="43" height="67"/><rect class="dp" x="2435" y="1025" width="43" height="89"/>
<path class="tk" d="M2307 958h43M2307 1025h43M2370 958h43M2370 1025h43M2435 958h43M2435 1025h43"/>
<path class="tn" d="M2307 989h43M2370 989h43M2435 989h43"/>
<rect class="or" x="2308" y="1148" width="41" height="161"/><rect class="rd" x="2308" y="1309" width="41" height="38"/><rect class="ly" x="2308" y="1347" width="41" height="222"/><rect class="sa" x="2308" y="1569" width="41" height="26"/><rect class="ye" x="2308" y="1595" width="41" height="202"/>
<rect class="or" x="2371" y="1148" width="41" height="161"/><rect class="rd" x="2371" y="1309" width="41" height="38"/><rect class="ly" x="2371" y="1347" width="41" height="222"/><rect class="sa" x="2371" y="1569" width="41" height="26"/><rect class="ye" x="2371" y="1595" width="41" height="202"/>
<rect class="or" x="2436" y="1148" width="41" height="161"/><rect class="rd" x="2436" y="1309" width="41" height="38"/><rect class="ly" x="2436" y="1347" width="41" height="222"/><rect class="sa" x="2436" y="1569" width="41" height="26"/><rect class="ye" x="2436" y="1595" width="41" height="202"/>
<path class="tk" d="M2308 1309h41M2308 1347h41M2308 1569h41M2308 1595h41M2371 1309h41M2371 1347h41M2371 1569h41M2371 1595h41M2436 1309h41M2436 1347h41M2436 1569h41M2436 1595h41"/>
<path class="tn" d="M2371 1223h41M2371 1430h41M2371 1495h41M2371 1659h41M2371 1718h41M2436 1223h41M2436 1460h41M2436 1658h41M2436 1717h41"/>
<rect class="gr" x="2308" y="1831" width="41" height="32"/><rect class="dg" x="2308" y="1863" width="41" height="37"/>
<rect class="gr" x="2371" y="1832" width="41" height="31"/><rect class="dg" x="2371" y="1863" width="41" height="37"/>
<rect class="gr" x="2436" y="1831" width="41" height="32"/><rect class="dg" x="2436" y="1863" width="41" height="37"/>
<path class="tk" d="M2308 1863h41M2371 1863h41M2436 1863h41"/>
<rect class="wb" x="2308" y="1947" width="41" height="20"/><rect class="wb" x="2371" y="1947" width="41" height="20"/><rect class="wb" x="2436" y="1947" width="41" height="20"/>
</g>

<g id="marker-labels">
<text class="bt it" x="1472" y="2018">COI</text>
<text class="bt" x="1486" y="2073">barcoding</text>
<text class="bt it" x="1785" y="2018">COI</text>
<text class="bt" x="1790" y="2073">DNF-DNR</text>
<text class="bt" x="2090" y="2018">subunit</text>
<text class="bt" x="2086" y="2073">D1-D3</text>
<text class="bt" x="2396" y="2018">ITS2</text>
<text class="bt" x="2397" y="2073">region</text>
</g>
</svg>
